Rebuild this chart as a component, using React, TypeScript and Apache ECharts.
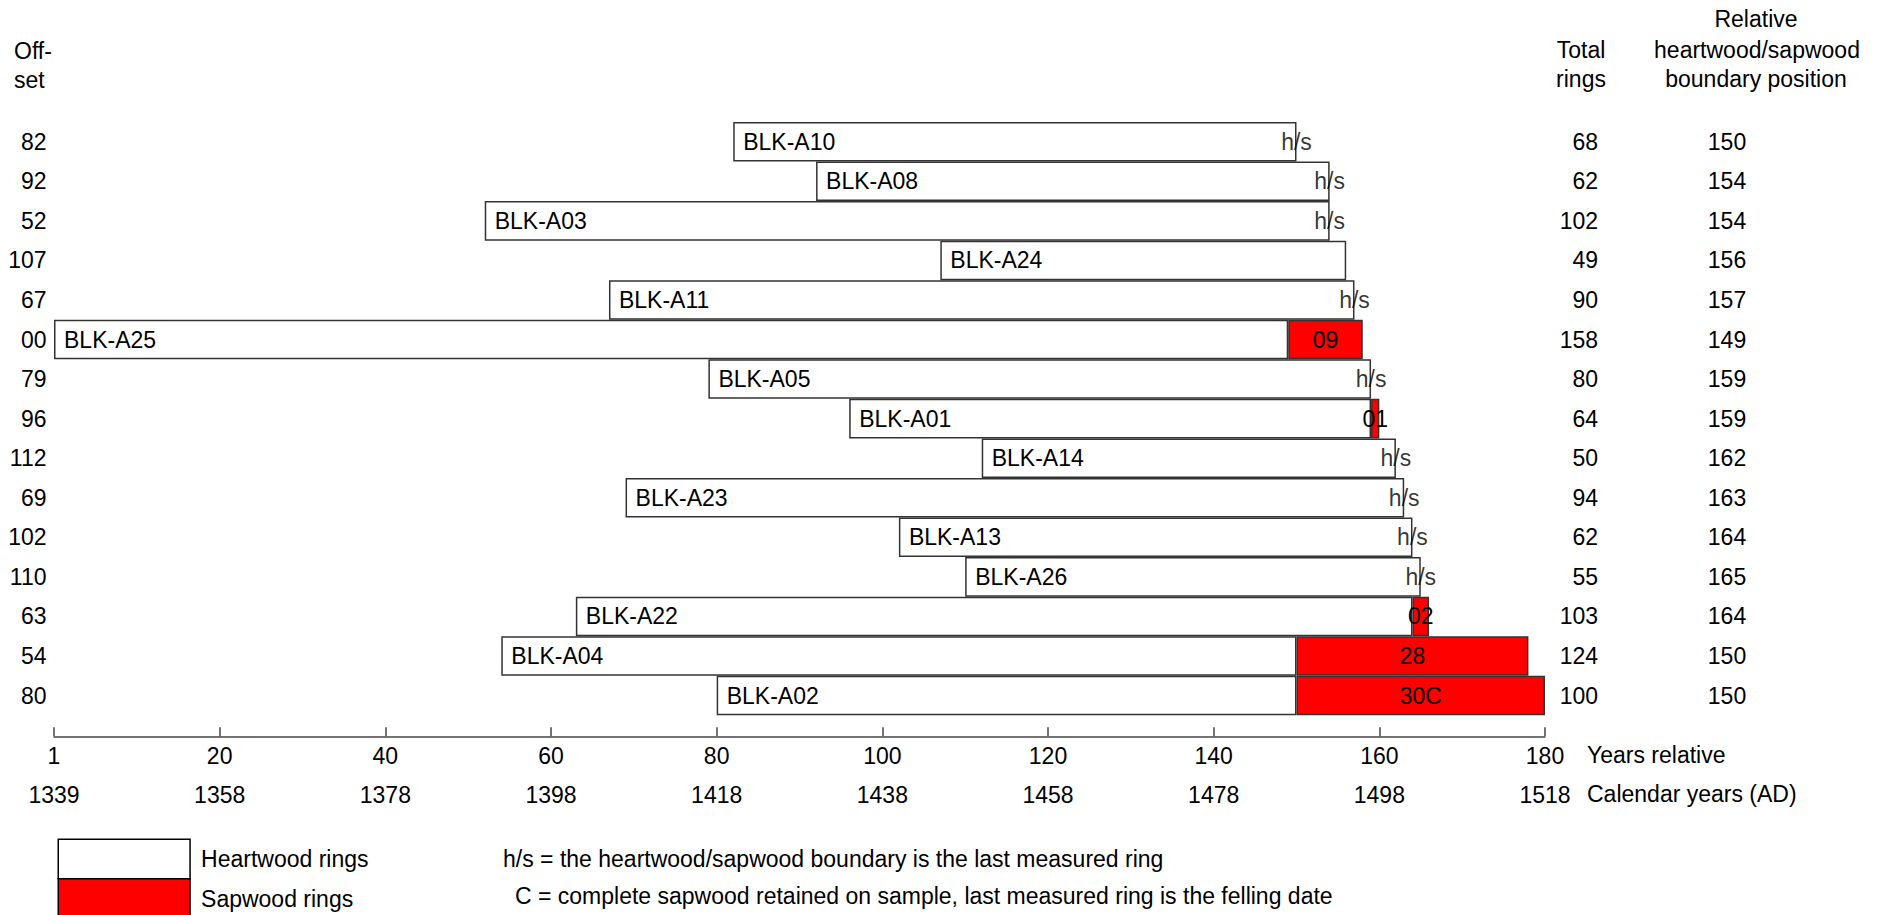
import React, { useEffect, useRef } from "react";
import * as echarts from "echarts";

const sampleNames = ["BLK-A10", "BLK-A08", "BLK-A03", "BLK-A24", "BLK-A11", "BLK-A25", "BLK-A05", "BLK-A01", "BLK-A14", "BLK-A23", "BLK-A13", "BLK-A26", "BLK-A22", "BLK-A04", "BLK-A02"];
const offsets = [82, 92, 52, 107, 67, 0, 79, 96, 112, 69, 102, 110, 63, 54, 80];
const offsetLabels = ["82", "92", "52", "107", "67", "00", "79", "96", "112", "69", "102", "110", "63", "54", "80"];
const totalRings = [68, 62, 102, 49, 90, 158, 80, 64, 50, 94, 62, 55, 103, 124, 100];
const boundaryPositions = [150, 154, 154, 156, 157, 149, 159, 159, 162, 163, 164, 165, 164, 150, 150];
const endLabels = ["h/s", "h/s", "h/s", "", "h/s", "09", "h/s", "01", "h/s", "h/s", "h/s", "h/s", "02", "28", "30C"];
const firstCalendarYear = 1339;

const FONT = "'Liberation Sans', Arial, sans-serif";
const FS = 23;

export default function App() {
  const ref = useRef<HTMLDivElement>(null);
  useEffect(() => {
    if (!ref.current) return;
    const chart = echarts.init(ref.current, undefined, { renderer: "svg" });
    const ends = offsets.map((o, i) => o + totalRings[i]);
    const heart = boundaryPositions.map((b, i) => b - offsets[i]);
    const sap = ends.map((e, i) => (e - boundaryPositions[i] > 0 ? e - boundaryPositions[i] : null));
    const hsData: any[] = [];
    endLabels.forEach((l, i) => {
      if (l === "h/s") hsData.push([ends[i], i]);
    });
    const txt = { fontFamily: FONT, fontSize: FS, color: "#000" };
    const font = `${FS}px ${FONT}`;
    const border = { borderColor: "#333", borderWidth: 1.5 };
    const legendBase = {
      orient: "vertical", left: 57.5, padding: 0, itemGap: 0,
      itemWidth: 131.8, itemHeight: 39.5, selectedMode: false,
      textStyle: { ...txt, padding: [0, 0, 0, 6] },
    };
    const T = (text: string, x: number, y: number, align = "left") => ({
      type: "text", x, y, style: { text, fill: "#000", font, align, verticalAlign: "middle" },
    });
    chart.setOption({
      animation: false,
      backgroundColor: "#fff",
      textStyle: { fontFamily: FONT },
      grid: { left: 54, right: 1879 - 1545, top: 122, bottom: 915 - 715.3, containLabel: false },
      xAxis: [
        {
          type: "value", min: 0, max: 180, interval: 20, position: "bottom", offset: 21,
          axisLine: { show: true, lineStyle: { color: "#444", width: 1.5 } },
          axisTick: { show: true, inside: true, length: 9, lineStyle: { color: "#444", width: 1.5 } },
          splitLine: { show: false },
          axisLabel: { ...txt, margin: 8, formatter: (v: number) => (v === 0 ? "1" : String(v)) },
        },
        {
          type: "value", min: 0, max: 180, interval: 20, position: "bottom", offset: 60,
          axisLine: { show: false }, axisTick: { show: false }, splitLine: { show: false },
          axisLabel: { ...txt, margin: 8, formatter: (v: number) => String(v === 0 ? firstCalendarYear : firstCalendarYear - 1 + v) },
        },
      ],
      yAxis: [
        {
          type: "category", inverse: true, data: sampleNames, position: "left",
          axisLine: { show: false }, axisTick: { show: false },
          axisLabel: { ...txt, margin: 7.5, formatter: (_v: string, i: number) => offsetLabels[i] },
        },
        {
          type: "category", inverse: true, data: sampleNames, position: "right", offset: 53,
          axisLine: { show: false }, axisTick: { show: false },
          axisLabel: { ...txt, margin: 0, align: "right", formatter: (_v: string, i: number) => String(totalRings[i]) },
        },
        {
          type: "category", inverse: true, data: sampleNames, position: "right", offset: 182,
          axisLine: { show: false }, axisTick: { show: false },
          axisLabel: { ...txt, margin: 0, align: "center", formatter: (_v: string, i: number) => String(boundaryPositions[i]) },
        },
      ],
      legend: [
        {
          ...legendBase, top: 838.6,
          data: [{ name: "Heartwood rings", icon: "rect", itemStyle: { color: "#fff", borderColor: "#000", borderWidth: 1.5 } }],
        },
        {
          ...legendBase, top: 878,
          data: [{ name: "Sapwood rings", icon: "rect", itemStyle: { color: "#ff0000", borderColor: "#000", borderWidth: 1.5 } }],
        },
      ],
      series: [
        {
          name: "offset", type: "bar", stack: "s", barWidth: "100%", silent: true,
          itemStyle: { color: "transparent" }, data: offsets,
        },
        {
          name: "Heartwood rings", type: "bar", stack: "s", barWidth: "100%",
          itemStyle: { color: "#fff", ...border },
          label: { show: true, position: "insideLeft", distance: 10, ...txt, formatter: (p: any) => sampleNames[p.dataIndex] },
          data: heart,
        },
        {
          name: "Sapwood rings", type: "bar", stack: "s", barWidth: "100%",
          itemStyle: { color: "#ff0000", ...border },
          label: { show: true, position: "inside", ...txt, formatter: (p: any) => endLabels[p.dataIndex] },
          data: sap,
        },
        {
          name: "hs", type: "scatter", symbolSize: 1, itemStyle: { color: "transparent" }, silent: true,
          label: { show: true, position: "inside", ...txt, formatter: () => "h/s" },
          data: hsData, z: 5,
        },
      ],
      graphic: [
        T("Off-", 14, 51),
        T("set", 14, 80),
        T("Total", 1581, 50, "center"),
        T("rings", 1581, 79, "center"),
        T("Relative", 1756, 19, "center"),
        T("heartwood/sapwood", 1757, 50, "center"),
        T("boundary position", 1756, 79, "center"),
        T("Years relative", 1587, 755),
        T("Calendar years (AD)", 1587, 794),
        T("h/s = the heartwood/sapwood boundary is the last measured ring", 503, 859),
        T("C = complete sapwood retained on sample, last measured ring is the felling date", 515, 896),
      ],
    });
    return () => chart.dispose();
  }, []);
  return <div ref={ref} style={{ width: 1879, height: 915, position: "absolute", left: 0, top: 0 }} />;
}
